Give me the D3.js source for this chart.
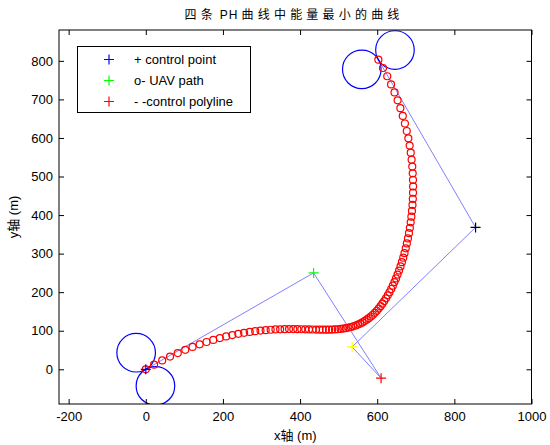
<!DOCTYPE html>
<html>
<head>
<meta charset="utf-8">
<script src="https://cdn.jsdelivr.net/npm/d3@7"></script>
<style>
  body { margin: 0; background: #fff; }
  text { font-family: "Liberation Sans", Arial, "Noto Sans CJK SC", sans-serif; fill: #000; }
</style>
</head>
<body>
<svg id="chart" width="550" height="445"></svg>
<script>
// Sampled PH path (UAV path), metres
const pathX = [0, 21.5, 42.5, 62.9, 82.9, 102.3, 121.2, 139.6, 157.5, 175.0,
  191.9, 208.4, 224.3, 239.9, 254.9, 269.5, 283.7, 297.4, 310.8, 323.7,
  336.2, 348.3, 360.0, 371.4, 382.4, 393.0, 403.3, 413.3, 423.0, 432.4,
  441.5, 450.3, 458.8, 467.1, 475.1, 482.9, 490.5, 497.8, 505.0, 511.9,
  518.7, 525.3, 531.7, 538.0, 544.1, 550.1, 556.0, 561.7, 567.3, 572.8,
  578.2, 583.5, 588.7, 593.9, 598.9, 603.8, 608.7, 613.5, 618.2, 622.8,
  627.4, 631.8, 636.2, 640.5, 644.7, 648.8, 652.7, 656.6, 660.4, 664.0,
  667.5, 670.8, 674.0, 676.9, 679.7, 682.3, 684.7, 686.8, 688.6, 690.1,
  691.4, 692.3, 692.8, 693.0, 692.7, 692.0, 690.9, 689.2, 686.9, 684.1,
  680.7, 676.6, 671.8, 666.3, 660.0, 652.9, 644.9, 635.9, 626.0, 615.0, 603.0];
const pathY = [0, 12.0, 23.0, 33.0, 42.2, 50.5, 58.0, 64.8, 70.8, 76.2,
  81.0, 85.2, 88.8, 92.0, 94.7, 97.0, 98.9, 100.4, 101.6, 102.6,
  103.3, 103.8, 104.0, 104.2, 104.2, 104.1, 103.9, 103.7, 103.5, 103.2,
  103.0, 102.8, 102.7, 102.7, 102.8, 103.0, 103.4, 103.9, 104.7, 105.6,
  106.7, 108.1, 109.7, 111.5, 113.6, 116.0, 118.7, 121.7, 125.0, 128.6,
  132.6, 136.9, 141.5, 146.5, 151.9, 157.6, 163.7, 170.1, 177.0, 184.2,
  191.8, 199.8, 208.2, 216.9, 226.1, 235.7, 245.6, 256.0, 266.8, 277.9,
  289.5, 301.4, 313.7, 326.4, 339.5, 353.0, 366.9, 381.2, 395.8, 410.8,
  426.2, 441.9, 458.0, 474.4, 491.2, 508.4, 525.8, 543.7, 561.8, 580.3,
  599.0, 618.1, 637.5, 657.2, 677.2, 697.5, 718.1, 738.9, 760.0, 781.4, 803.0];

// Control polygon
const ctrlX = [0, 435, 610, 535, 855, 603];
const ctrlY = [0, 250, -23, 58, 368, 803];
const ctrlColors = ["#0000ff", "#00ff00", "#ff0000", "#ffff00", "#000000"];

// Minimum turning circles at start and end
const circleX = [-25, 25, 560, 646];
const circleY = [43, -43, 778, 828];
const turnRadius = 50;

// Axis ticks
const xTicks = [-200, 0, 200, 400, 600, 800, 1000];
const yTicks = [0, 100, 200, 300, 400, 500, 600, 700, 800];

// Legend
const legendLabels = ["+ control point", "o- UAV path", "- -control polyline"];
const legendColors = ["#0000ff", "#00ff00", "#ff0000"];

const svg = d3.select("#chart");
const box = { left: 59, right: 531.5, top: 30, bottom: 404 };

const x = d3.scaleLinear().domain([-225, 1000]).range([box.left, box.right]);
const y = d3.scaleLinear().domain([-90, 880]).range([box.bottom, box.top]);

svg.append("defs").append("clipPath").attr("id", "plotClip")
  .append("rect")
  .attr("x", box.left).attr("y", box.top)
  .attr("width", box.right - box.left).attr("height", box.bottom - box.top);

const plot = svg.append("g").attr("clip-path", "url(#plotClip)");

// control polyline
plot.append("path")
  .datum(d3.range(ctrlX.length))
  .attr("fill", "none")
  .attr("stroke", "#8080ff")
  .attr("stroke-width", 1)
  .attr("d", d3.line().x(i => x(ctrlX[i])).y(i => y(ctrlY[i])));

// turning circles (radius in data units, axis equal)
plot.selectAll("circle.turn")
  .data(d3.range(circleX.length))
  .join("circle")
  .attr("class", "turn")
  .attr("cx", i => x(circleX[i]))
  .attr("cy", i => y(circleY[i]))
  .attr("r", x(turnRadius) - x(0))
  .attr("fill", "none")
  .attr("stroke", "#0000ff")
  .attr("stroke-width", 1.2);

// path samples
plot.selectAll("circle.pt")
  .data(d3.range(pathX.length))
  .join("circle")
  .attr("class", "pt")
  .attr("cx", i => x(pathX[i]))
  .attr("cy", i => y(pathY[i]))
  .attr("r", 3.5)
  .attr("fill", "none")
  .attr("stroke", "#ff0000")
  .attr("stroke-width", 1.2);

// plus markers
function plus(g, cx, cy, color, s) {
  g.append("path")
    .attr("d", `M${cx - s},${cy}H${cx + s}M${cx},${cy - s}V${cy + s}`)
    .attr("stroke", color)
    .attr("stroke-width", 1.2)
    .attr("fill", "none");
}
ctrlColors.forEach((c, i) => plus(plot, x(ctrlX[i]), y(ctrlY[i]), c, 5));

// axes with inward ticks
const fmt = d => String(d);
const axisFont = g => g.selectAll("text").style("font-size", "13px");

svg.append("g").attr("transform", `translate(0,${box.bottom})`)
  .call(d3.axisBottom(x).tickValues(xTicks).tickSize(-5).tickPadding(8).tickFormat(fmt))
  .call(g => g.select(".domain").remove())
  .call(axisFont);
svg.append("g").attr("transform", `translate(0,${box.top})`)
  .call(d3.axisTop(x).tickValues(xTicks).tickSize(-5).tickFormat(""))
  .call(g => g.select(".domain").remove());
svg.append("g").attr("transform", `translate(${box.left},0)`)
  .call(d3.axisLeft(y).tickValues(yTicks).tickSize(-5).tickPadding(6).tickFormat(fmt))
  .call(g => g.select(".domain").remove())
  .call(axisFont);
svg.append("g").attr("transform", `translate(${box.right},0)`)
  .call(d3.axisRight(y).tickValues(yTicks).tickSize(-5).tickFormat(""))
  .call(g => g.select(".domain").remove());
svg.selectAll(".tick text").attr("font-family", null);
svg.selectAll(".tick line").attr("stroke", "#000");

svg.append("rect")
  .attr("x", box.left).attr("y", box.top)
  .attr("width", box.right - box.left).attr("height", box.bottom - box.top)
  .attr("fill", "none").attr("stroke", "#000").attr("stroke-width", 1);

// title and axis labels
const title = svg.append("text")
  .attr("x", 294).attr("y", 19)
  .attr("text-anchor", "middle")
  .style("font-size", "12px");
title.append("tspan").style("letter-spacing", "4.2px").text("四条");
title.append("tspan").attr("dx", 3).style("letter-spacing", "1px").text("PH");
title.append("tspan").attr("dx", 3).style("letter-spacing", "4.2px").text("曲线中能量最小的曲线");

svg.append("text")
  .attr("x", (box.left + box.right) / 2).attr("y", 440)
  .attr("text-anchor", "middle")
  .style("font-size", "13px")
  .text("x轴 (m)");
svg.append("text")
  .attr("transform", `translate(18,${(box.top + box.bottom) / 2}) rotate(-90)`)
  .attr("text-anchor", "middle")
  .style("font-size", "13px")
  .text("y轴 (m)");

// legend
const lg = svg.append("g");
lg.append("rect")
  .attr("x", 77.5).attr("y", 46.5).attr("width", 173).attr("height", 66)
  .attr("fill", "#fff").attr("stroke", "#000").attr("stroke-width", 1);
legendLabels.forEach((t, i) => {
  const cy = 59.5 + i * 21;
  plus(lg, 109, cy, legendColors[i], 5);
  lg.append("text").attr("x", 134).attr("y", cy + 4.5)
    .style("font-size", "13px").text(t);
});
</script>
</body>
</html>
